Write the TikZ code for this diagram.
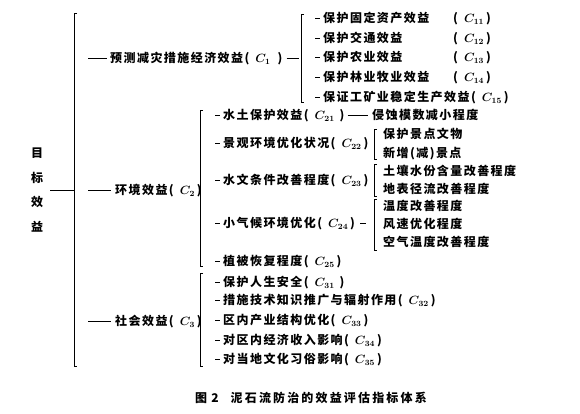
\documentclass[tikz,border=0pt]{standalone}
\usepackage{fontspec}
\setmainfont[LetterSpace=12]{Noto Sans CJK SC}
\usetikzlibrary{positioning}
\newcommand\cidx[2][2pt]{(\hspace{6pt}$C_{#2}$\hspace{#1})}

\begin{document}
\begin{tikzpicture}[x=1pt,y=-1pt,
  every node/.style={inner sep=0pt,font=\fontsize{12}{14}\selectfont\bfseries\boldmath},
  item/.style={anchor=west,text height=11pt,text depth=1.8pt},
  brk/.style={line width=0.7pt},
  link/.style={line width=0.7pt}
]
  \useasboundingbox (0,0) rectangle (580,414);
  % root and main bracket
  \node[align=center,font=\fontsize{12}{24.7}\selectfont\bfseries] (root) at (37,190) {目\\标\\效\\益};
  \coordinate (b0t) at (74,13);
  \coordinate (b0b) at (74,366);
  \draw[brk] ([xshift=3pt]b0t) -- (b0t) -- (b0b) -- ([xshift=3pt]b0b);
  \draw[link,shorten <=7pt] (root.east) -- (root.east -| b0t);

  % first level
  \node[item] (c1) at (110,58) {预测减灾措施经济效益\cidx[7pt]{1}};
  \node[item] (c2) at (115,190) {环境效益\cidx{2}};
  \node[item] (c3) at (115,321) {社会效益\cidx{3}};
  \draw[link,shorten <=14pt,shorten >=3pt] (b0t |- c1.west) -- (c1.west);
  \draw[link,shorten <=14pt,shorten >=4pt] (b0t |- c2.west) -- (c2.west);
  \draw[link,shorten <=14pt,shorten >=4pt] (b0t |- c3.west) -- (c3.west);

  % C1 group
  \coordinate (b1t) at (301,14);
  \coordinate (b1b) at (301,102);
  \draw[brk] ([xshift=3pt]b1t) -- (b1t) -- (b1b) -- ([xshift=3pt]b1b);
  \draw[link,shorten <=4pt,shorten >=2pt] (c1.east) -- (c1.east -| b1t);
  \node[item] (c11) at (323,18) {\makebox[130pt][l]{保护固定资产效益}\cidx{11}};
  \node[item] (c12) at (323,38) {\makebox[130pt][l]{保护交通效益}\cidx{12}};
  \node[item] (c13) at (323,57) {\makebox[130pt][l]{保护农业效益}\cidx{13}};
  \node[item] (c14) at (323,77) {\makebox[130pt][l]{保护林业牧业效益}\cidx{14}};
  \node[item] (c15) at (323,97) {保证工矿业稳定生产效益\cidx{15}};
  \draw[link,shorten <=14pt,shorten >=3pt] (b1t |- c11.west) -- (c11.west);
  \draw[link,shorten <=14pt,shorten >=3pt] (b1t |- c12.west) -- (c12.west);
  \draw[link,shorten <=14pt,shorten >=3pt] (b1t |- c13.west) -- (c13.west);
  \draw[link,shorten <=14pt,shorten >=3pt] (b1t |- c14.west) -- (c14.west);
  \draw[link,shorten <=14pt,shorten >=3pt] (b1t |- c15.west) -- (c15.west);

  % C2 group
  \coordinate (b2t) at (200,110);
  \coordinate (b2b) at (200,266);
  \draw[brk] ([xshift=3pt]b2t) -- (b2t) -- (b2b) -- ([xshift=3pt]b2b);
  \node[item] (c21) at (223,115) {水土保护效益\cidx[5pt]{21}};
  \node[item] (c22) at (223,143) {景观环境优化状况\cidx{22}};
  \node[item] (c23) at (223,180) {水文条件改善程度\cidx{23}};
  \node[item] (c24) at (223,223) {小气候环境优化\cidx{24}};
  \node[item] (c25) at (223,261) {植被恢复程度\cidx{25}};
  \draw[link,shorten <=15pt,shorten >=3pt] (b2t |- c21.west) -- (c21.west);
  \draw[link,shorten <=15pt,shorten >=3pt] (b2t |- c22.west) -- (c22.west);
  \draw[link,shorten <=15pt,shorten >=3pt] (b2t |- c23.west) -- (c23.west);
  \draw[link,shorten <=15pt,shorten >=3pt] (b2t |- c24.west) -- (c24.west);
  \draw[link,shorten <=15pt,shorten >=3pt] (b2t |- c25.west) -- (c25.west);

  \node[item] (c21a) at (372,115) {侵蚀模数减小程度};
  \draw[link,shorten <=3pt,shorten >=4pt] (c21.east) -- (c21a.west);

  \coordinate (b22t) at (374,129);
  \coordinate (b22b) at (374,159);
  \draw[brk] ([xshift=3pt]b22t) -- (b22t) -- (b22b) -- ([xshift=3pt]b22b);
  \node[item] (c22a) at (383,134) {保护景点文物};
  \node[item] (c22b) at (383,153) {新增(减)景点};

  \coordinate (b23t) at (374,164);
  \coordinate (b23b) at (374,196);
  \draw[brk] ([xshift=3pt]b23t) -- (b23t) -- (b23b) -- ([xshift=3pt]b23b);
  \node[item] (c23a) at (383,171) {土壤水份含量改善程度};
  \node[item] (c23b) at (383,189) {地表径流改善程度};

  \coordinate (b24t) at (374,199);
  \coordinate (b24b) at (374,250);
  \draw[brk] ([xshift=3pt]b24t) -- (b24t) -- (b24b) -- ([xshift=3pt]b24b);
  \draw[link,shorten <=5pt,shorten >=8pt] (c24.east) -- (c24.east -| b24t);
  \node[item] (c24a) at (383,206) {温度改善程度};
  \node[item] (c24b) at (383,224) {风速优化程度};
  \node[item] (c24c) at (383,242) {空气温度改善程度};

  % C3 group
  \coordinate (b3t) at (200,273);
  \coordinate (b3b) at (200,366);
  \draw[brk] ([xshift=3pt]b3t) -- (b3t) -- (b3b) -- ([xshift=3pt]b3b);
  \node[item] (c31) at (223,282) {保护人生安全\cidx[5pt]{31}};
  \node[item] (c32) at (223,300) {措施技术知识推广与辐射作用\cidx{32}};
  \node[item] (c33) at (223,320) {区内产业结构优化\cidx{33}};
  \node[item] (c34) at (223,340) {对区内经济收入影响\cidx{34}};
  \node[item] (c35) at (223,359) {对当地文化习俗影响\cidx{35}};
  \draw[link,shorten <=15pt,shorten >=3pt] (b3t |- c31.west) -- (c31.west);
  \draw[link,shorten <=15pt,shorten >=3pt] (b3t |- c32.west) -- (c32.west);
  \draw[link,shorten <=15pt,shorten >=3pt] (b3t |- c33.west) -- (c33.west);
  \draw[link,shorten <=15pt,shorten >=3pt] (b3t |- c34.west) -- (c34.west);
  \draw[link,shorten <=15pt,shorten >=3pt] (b3t |- c35.west) -- (c35.west);

  % caption
  \node[item] (cap) at (195,398) {图 2\hspace{12pt}\addfontfeature{LetterSpace=18}泥石流防治的效益评估指标体系};
\end{tikzpicture}
\end{document}
